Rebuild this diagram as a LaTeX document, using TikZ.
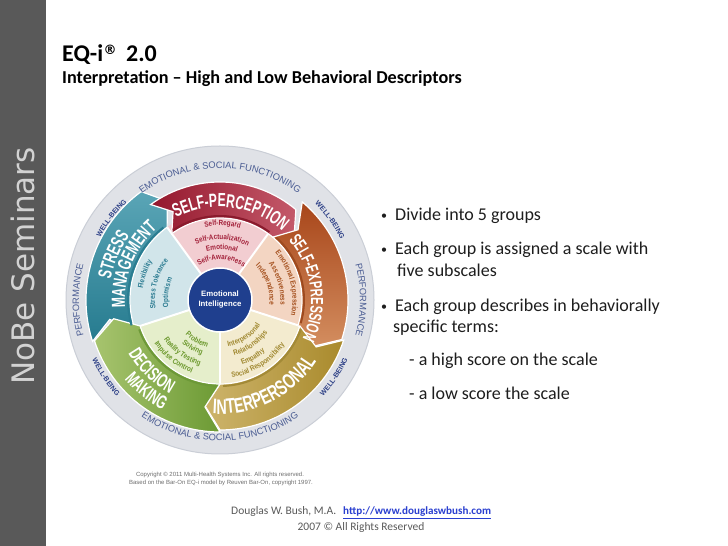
\documentclass[tikz,border=0pt]{standalone}
\usepackage{fontspec}
\setmainfont{Carlito}
\newfontfamily\barfont{DejaVu Sans}
\newfontfamily\arialf{Liberation Sans}
\newfontfamily\bandf[FakeStretch=0.64]{Liberation Sans}
\newfontfamily\bandfb[FakeStretch=0.68]{Liberation Sans}
\newfontfamily\subf[FakeStretch=0.85]{Liberation Sans}
\usetikzlibrary{decorations.text}
\definecolor{barG}{HTML}{595959}
\definecolor{barT}{HTML}{D2D2D2}
\definecolor{txt}{HTML}{1E1E1E}
\definecolor{ringG}{HTML}{E0E2E7}
\definecolor{ringE}{HTML}{CACED6}
\definecolor{ringT}{HTML}{4A5C92}
\definecolor{wbT}{HTML}{2C3F86}
\definecolor{red1}{HTML}{94182D}
\definecolor{red2}{HTML}{C4596A}
\definecolor{redL}{HTML}{8A1B2D}
\definecolor{inP}{HTML}{F2CDD1}
\definecolor{redT}{HTML}{A3213A}
\definecolor{or1}{HTML}{A8461A}
\definecolor{or2}{HTML}{D38D5F}
\definecolor{orL}{HTML}{9E4A1F}
\definecolor{inO}{HTML}{F3D5C2}
\definecolor{orT}{HTML}{A5511F}
\definecolor{go1}{HTML}{CDB46B}
\definecolor{go2}{HTML}{A98A2C}
\definecolor{goL}{HTML}{A38A37}
\definecolor{inG}{HTML}{F3EBCF}
\definecolor{goT}{HTML}{A08830}
\definecolor{gr1}{HTML}{A7C46E}
\definecolor{gr2}{HTML}{6C9A34}
\definecolor{grL}{HTML}{6D9938}
\definecolor{inGr}{HTML}{E5EECB}
\definecolor{grT}{HTML}{6B982C}
\definecolor{te1}{HTML}{5AA5B6}
\definecolor{te2}{HTML}{267B8F}
\definecolor{teL}{HTML}{2A7D91}
\definecolor{inT}{HTML}{D1E5EA}
\definecolor{teT}{HTML}{2B7B91}
\definecolor{eiB}{HTML}{1F3F8E}
\definecolor{linkB}{HTML}{2A3FD0}
\definecolor{footT}{HTML}{5A5A5A}
\definecolor{copyT}{HTML}{6E6E6E}
% band: #1 a1 (clockwise end), #2 a2, #3 Ri, #4 Ro, #5 Rm, #6 fill opts
\newcommand\wband[6]{%
  \path[draw=white,line width=1.2pt,#6] (#2:#4pt) arc[start angle=#2,end angle=#1,radius=#4pt]
    -- ({#1-8}:#5pt) -- (#1:#3pt) arc[start angle=#1,end angle=#2,radius=#3pt]
    -- ({#2-8}:#5pt) -- cycle;}
% clockwise text (tops outward): #1 centre angle, #2 baseline radius, #3 format, #4 text
\newcommand\cwtxt[4]{%
  \path[decorate,decoration={text along path,text align=center,text={|#3|#4}}]
    ({#1+85}:#2pt) arc[start angle={#1+85},end angle={#1-85},radius=#2pt];}
% counter-clockwise text (tops inward)
\newcommand\ccwtxt[4]{%
  \path[decorate,decoration={text along path,text align=center,text={|#3|#4}}]
    ({#1-85}:#2pt) arc[start angle={#1-85},end angle={#1+85},radius=#2pt];}
\tikzset{
  bul/.style={anchor=base west,inner sep=0pt,text=txt,font=\fontsize{18}{21}\selectfont},
  dot/.style={anchor=base west,inner sep=0pt,text=txt,font=\fontsize{12}{12}\selectfont},
  foot/.style={anchor=base west,inner sep=0pt,text=footT,font=\fontsize{11.5}{13}\selectfont},
  copy/.style={inner sep=0pt,text=copyT,font=\arialf\fontsize{6}{7}\selectfont},
}
\newcommand\ringf{\color{ringT}\arialf\fontsize{9.3}{10}\selectfont}
\newcommand\wbf{\color{wbT}\arialf\bfseries\fontsize{7}{8}\selectfont}
\newcommand\bandtf[1]{\color{white}\bandf\bfseries\fontsize{#1}{#1}\selectfont}
\newcommand\bandtfb{\color{white}\bandfb\bfseries\fontsize{21}{21}\selectfont}
\newcommand\subtf[1]{\color{#1}\subf\bfseries\fontsize{7.5}{8}\selectfont}
\begin{document}
\begin{tikzpicture}[x=1pt,y=1pt]
\useasboundingbox (0,0) rectangle (728,546);
\fill[white] (0,0) rectangle (728,546);
\fill[barG] (0,0) rectangle (46,546);
\node[rotate=90,text=barT,font=\barfont\fontsize{31}{31}\selectfont] (brand) at (23,280) {NoBe Seminars};
% titles
\node[anchor=base west,inner sep=0pt,text=black,font=\bfseries\fontsize{24}{26}\selectfont] (title) at (62,484) {EQ-i\hspace{0.5pt}\raisebox{7pt}{\barfont\bfseries\fontsize{13}{13}\selectfont ®}\hspace{4pt} 2.0};
\node[anchor=base west,inner sep=0pt,text=black,font=\bfseries\fontsize{18.2}{20}\selectfont] (subtitle) at (62,462) {Interpretation – High and Low Behavioral Descriptors};
% bullets
\node[dot] (d1) at (381,326) {•};
\node[bul] (l1) at (395,325) {Divide into 5 groups};
\node[dot] (d2) at (381,292) {•};
\node[bul] (l2) at (395,291) {Each group is assigned a scale with};
\node[bul] (l3) at (397,269) {five subscales};
\node[dot] (d3) at (381,235) {•};
\node[bul] (l4) at (395,234) {Each group describes in behaviorally};
\node[bul] (l5) at (393,213) {specific terms:};
\node[bul] (l6) at (409,180) {- a high score on the scale};
\node[bul] (l7) at (409,146) {- a low score the scale};
% footer
\node[foot] (author) at (231,31) {Douglas W. Bush, M.A.};
\node[foot,text=linkB,font=\bfseries\fontsize{11.1}{13}\selectfont] (link) at (343,31) {\underline{http://www.douglaswbush.com}};
\node[foot,anchor=base] (rights) at (361,16) {2007 © All Rights Reserved};
\node[copy] (copy1) at (220,71) {Copyright © 2011 Multi-Health Systems Inc. All rights reserved.};
\node[copy] (copy2) at (221,63) {Based on the Bar-On EQ-i model by Reuven Bar-On, copyright 1997.};
% wheel
\begin{scope}[shift={(220,246)}]
  \fill[ringG,draw=ringE,line width=1pt] (0,0) circle[radius=154pt];
  % inner sectors
  \fill[inP] (0,0) -- (54:90pt) arc[start angle=54,end angle=126,radius=90pt] -- cycle;
  \fill[inO] (0,0) -- (-18:90pt) arc[start angle=-18,end angle=54,radius=90pt] -- cycle;
  \fill[inG] (0,0) -- (-90:90pt) arc[start angle=-90,end angle=-18,radius=90pt] -- cycle;
  \fill[inGr] (0,0) -- (-162:90pt) arc[start angle=-162,end angle=-90,radius=90pt] -- cycle;
  \fill[inT] (0,0) -- (126:90pt) arc[start angle=126,end angle=198,radius=90pt] -- cycle;
  \foreach \a in {54,126,198,270,342} \draw[white,line width=2pt] (0,0) -- (\a:90pt);
  % bands
  \wband{126}{198}{90}{134}{112}{top color=te1,bottom color=te2}
  \wband{50}{126}{82}{118}{100}{left color=red1,right color=red2}
  \wband{-18}{50}{82}{128}{105}{top color=or1,bottom color=or2}
  \wband{-90}{-18}{84}{130}{107}{left color=go1,right color=go2}
  \wband{-162}{-90}{84}{132}{108}{left color=gr1,right color=gr2}
  \draw[teL,line width=2pt] (128:92pt) arc[start angle=128,end angle=196,radius=92pt];
  \draw[redL,line width=2pt] (54:84pt) arc[start angle=54,end angle=124,radius=84pt];
  \draw[orL,line width=2pt] (-16:84pt) arc[start angle=-16,end angle=48,radius=84pt];
  \draw[goL,line width=2pt] (-88:86pt) arc[start angle=-88,end angle=-20,radius=86pt];
  \draw[grL,line width=2pt] (-160:86pt) arc[start angle=-160,end angle=-92,radius=86pt];
  % centre
  \node[circle,fill=eiB,draw=white,line width=1.5pt,minimum size=64pt,inner sep=0pt,
        text=white,align=center,font=\arialf\bfseries\fontsize{7.8}{10}\selectfont] (ei) at (0,0) {Emotional\\Intelligence};
  % ring texts
  \cwtxt{90}{132}{\ringf}{EMOTIONAL {\&} SOCIAL FUNCTIONING}
  \ccwtxt{270}{141}{\ringf}{EMOTIONAL {\&} SOCIAL FUNCTIONING}
  \cwtxt{180}{141}{\ringf}{PERFORMANCE}
  \cwtxt{0}{140}{\ringf}{PERFORMANCE}
  \cwtxt{143}{135}{\wbf}{WELL-BEING}
  \cwtxt{36}{135}{\wbf}{WELL-BEING}
  \ccwtxt{214}{141}{\wbf}{WELL-BEING}
  \ccwtxt{-34}{141}{\wbf}{WELL-BEING}
  % band titles
  \cwtxt{83}{93}{\bandtf{19}}{SELF-PERCEPTION}
  \cwtxt{8}{91}{\bandtf{17.5}}{SELF-EXPRESSION}
  \ccwtxt{-63}{114}{\bandtfb}{INTERPERSONAL}
  \ccwtxt{226}{106}{\bandtf{19}}{DECISION}
  \ccwtxt{231}{124}{\bandtf{19}}{MAKING}
  \cwtxt{157}{111}{\bandtf{19}}{STRESS}
  \cwtxt{158}{95}{\bandtf{19}}{MANAGEMENT}
  % subscales
  \cwtxt{88}{74.5}{\subtf{redT}}{Self-Regard}
  \cwtxt{88}{60.5}{\subtf{redT}}{Self-Actualization}
  \cwtxt{88}{50.5}{\subtf{redT}}{Emotional}
  \cwtxt{88}{40.5}{\subtf{redT}}{Self-Awareness}
  \cwtxt{14}{72.5}{\subtf{orT}}{Emotional Expression}
  \cwtxt{16}{60.5}{\subtf{orT}}{Assertiveness}
  \cwtxt{19}{49.5}{\subtf{orT}}{Independence}
  \ccwtxt{-56}{47.5}{\subtf{goT}}{Interpersonal}
  \ccwtxt{-55}{57.5}{\subtf{goT}}{Relationships}
  \ccwtxt{-60}{68.5}{\subtf{goT}}{Empathy}
  \ccwtxt{-58}{78.5}{\subtf{goT}}{Social Responsibility}
  \ccwtxt{240}{49}{\subtf{grT}}{Problem}
  \ccwtxt{240}{57.5}{\subtf{grT}}{Solving}
  \ccwtxt{234}{68.5}{\subtf{grT}}{Reality Testing}
  \ccwtxt{231}{78.5}{\subtf{grT}}{Impulse Control}
  \cwtxt{161}{78}{\subtf{teT}}{Flexibility}
  \cwtxt{165}{65}{\subtf{teT}}{Stress Tolerance}
  \cwtxt{172}{52}{\subtf{teT}}{Optimism}
\end{scope}
\end{tikzpicture}
\end{document}
